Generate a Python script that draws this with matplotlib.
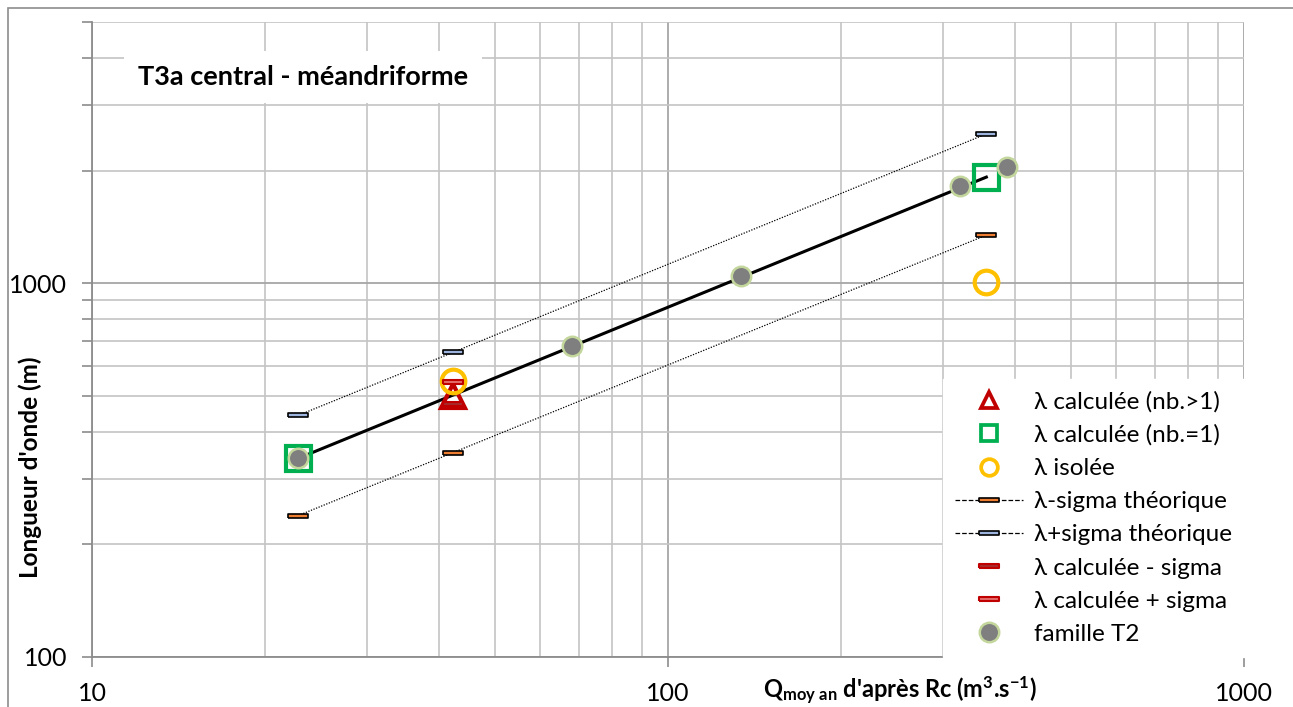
import matplotlib
matplotlib.use("Agg")
import matplotlib.pyplot as plt
from matplotlib.ticker import LogLocator, NullFormatter, FixedLocator, FixedFormatter
from matplotlib.patches import Rectangle
from matplotlib.lines import Line2D

plt.rcParams['font.family'] = ['Lato', 'DejaVu Sans']
plt.rcParams['mathtext.fontset'] = 'custom'
plt.rcParams['mathtext.rm'] = 'Lato'
plt.rcParams['mathtext.bf'] = 'Lato:bold'
plt.rcParams['mathtext.it'] = 'Lato:italic'

# ---- data ----
q_t2 = [22.8, 68.1, 133.9, 321, 388]
l_t2 = [340, 678, 1044, 1820, 2046]

q_calc_multi = [42.3]
l_calc_multi = [498]
l_calc_minus = [475]
l_calc_plus = [543]

q_calc_one = [22.8, 357]
l_calc_one = [340, 1923]

q_isol = [42.3, 357]
l_isol = [549, 1006]

q_sigma = [22.8, 42.3, 357]
l_sigma_minus = [239, 352, 1345]
l_sigma_plus = [443, 653, 2509]

q_line = [22.8, 357]
l_line = [340, 1923]

x_ticks = [10, 100, 1000]
x_ticklabels = ["10", "100", "1000"]
y_ticks = [100, 1000]
y_ticklabels = ["100", "1000"]

title = "T3a central - méandriforme"

W, H = 1293, 707
fig = plt.figure(figsize=(W / 100, H / 100), dpi=100)
fig.patches.append(Rectangle((8 / W, -0.1), 1.2, 1 - 8 / H + 0.1, transform=fig.transFigure,
                             fill=False, edgecolor='#8c8c8c', linewidth=1.2))
ax = fig.add_axes([92 / W, 1 - 657 / H, (1244 - 92) / W, (657 - 22) / H])
ax.set_xscale('log')
ax.set_yscale('log')
ax.set_xlim(10, 1000)
ax.set_ylim(100, 5000)

ax.xaxis.set_major_locator(FixedLocator(x_ticks))
ax.xaxis.set_major_formatter(FixedFormatter(x_ticklabels))
ax.yaxis.set_major_locator(FixedLocator(y_ticks))
ax.yaxis.set_major_formatter(FixedFormatter(y_ticklabels))
ax.xaxis.set_minor_locator(LogLocator(base=10, subs=range(2, 10)))
ax.yaxis.set_minor_locator(LogLocator(base=10, subs=range(2, 10)))
ax.xaxis.set_minor_formatter(NullFormatter())
ax.yaxis.set_minor_formatter(NullFormatter())

ax.grid(True, which='major', color='#a6a6a6', linewidth=1.3)
ax.grid(True, which='minor', color='#c4c4c4', linewidth=1.2)
ax.set_axisbelow(True)

for s in ['top', 'right']:
    ax.spines[s].set_visible(False)
for s in ['left', 'bottom']:
    ax.spines[s].set_color('#8c8c8c')
    ax.spines[s].set_linewidth(1.3)

ax.tick_params(axis='both', which='major', direction='out', length=7, width=1.2,
               color='#8c8c8c', labelsize=18, pad=11)
ax.tick_params(axis='y', which='minor', direction='out', length=7, width=1.2, color='#8c8c8c')
ax.tick_params(axis='x', which='minor', length=0)

# theoretical line
ax.plot(q_line, l_line, color='black', linewidth=2.2, zorder=3)

# sigma theoretical
bar = [(-1, -0.22), (1, -0.22), (1, 0.22), (-1, 0.22), (-1, -0.22)]
ax.plot(q_sigma, l_sigma_minus, linestyle=(0, (1, 1.2)), color='black', linewidth=0.9,
        marker=bar, markersize=15, markerfacecolor='#ed7d31', markeredgecolor='black',
        markeredgewidth=1.2, zorder=4, label='λ-sigma théorique')
ax.plot(q_sigma, l_sigma_plus, linestyle=(0, (1, 1.2)), color='black', linewidth=0.9,
        marker=bar, markersize=15, markerfacecolor='#9db5de', markeredgecolor='black',
        markeredgewidth=1.2, zorder=4, label='λ+sigma théorique')

ax.plot(q_calc_multi, l_calc_multi, linestyle='none', marker='^', markersize=17,
        markerfacecolor='none', markeredgecolor='#c00000', markeredgewidth=3,
        zorder=5, label='λ calculée (nb.>1)')
ax.plot(q_calc_one, l_calc_one, linestyle='none', marker='s', markersize=18,
        markerfacecolor='none', markeredgecolor='#00b050', markeredgewidth=3,
        zorder=5, label='λ calculée (nb.=1)')
ax.plot(q_isol, l_isol, linestyle='none', marker='o', markersize=17,
        markerfacecolor='none', markeredgecolor='#ffc000', markeredgewidth=3,
        zorder=6, label='λ isolée')
ax.plot(q_calc_multi, l_calc_minus, linestyle='none', marker=bar, markersize=14,
        markerfacecolor='#a52a2a', markeredgecolor='#c00000', markeredgewidth=1.5,
        zorder=7, label='λ calculée - sigma')
ax.plot(q_calc_multi, l_calc_plus, linestyle='none', marker=bar, markersize=14,
        markerfacecolor='#e46c6c', markeredgecolor='#c00000', markeredgewidth=1.5,
        zorder=7, label='λ calculée + sigma')
ax.plot(q_t2, l_t2, linestyle='none', marker='o', markersize=14,
        markerfacecolor='#7f7f7f', markeredgecolor='#c3d69b', markeredgewidth=1.8,
        zorder=8, label='famille T2')

order = ['λ calculée (nb.>1)', 'λ calculée (nb.=1)', 'λ isolée', 'λ-sigma théorique',
         'λ+sigma théorique', 'λ calculée - sigma', 'λ calculée + sigma', 'famille T2']
handles, labels = ax.get_legend_handles_labels()
hmap = dict(zip(labels, handles))

def small(h, ms):
    return Line2D([], [], linestyle=h.get_linestyle(), color=h.get_color(),
                  linewidth=h.get_linewidth(), marker=h.get_marker(), markersize=ms,
                  markerfacecolor=h.get_markerfacecolor(),
                  markeredgecolor=h.get_markeredgecolor(),
                  markeredgewidth=min(h.get_markeredgewidth(), 2.7))
sizes = {'λ calculée (nb.>1)': 11, 'λ calculée (nb.=1)': 12, 'λ isolée': 12,
         'λ-sigma théorique': 15, 'λ+sigma théorique': 15, 'λ calculée - sigma': 14,
         'λ calculée + sigma': 14, 'famille T2': 14}
leg_handles = [small(hmap[l], sizes[l]) for l in order]
leg = ax.legend(leg_handles, order, loc='lower right', bbox_to_anchor=(1.0, 0.0),
                borderaxespad=0.0, frameon=True, fancybox=False, fontsize=17.5,
                handlelength=2.8, handletextpad=0.45, labelspacing=0.5,
                borderpad=0.5, numpoints=1)
leg.get_frame().set_facecolor('white')
leg.get_frame().set_edgecolor('white')
leg.get_frame().set_alpha(1)
leg.set_zorder(20)

# title box
fig.text(303 / W, 1 - 77 / H, title, ha='center', va='center', fontsize=19.5,
         fontweight='bold', zorder=30,
         bbox=dict(boxstyle='square,pad=0.5', facecolor='white', edgecolor='none'))

fig.text(30 / W, 1 - 467 / H, "Longueur d'onde (m)", rotation=90, ha='center', va='center',
         fontsize=17.5, fontweight='bold')
fig.text(900 / W, 1 - 690 / H,
         r"$\mathbf{Q}_{\mathbf{moy\ an}}$ d'après Rc (m$^{\mathbf{3}}$.s$^{\mathbf{-1}}$)",
         ha='center', va='center', fontsize=17, fontweight='bold')

fig.savefig('out.png', dpi=100)
